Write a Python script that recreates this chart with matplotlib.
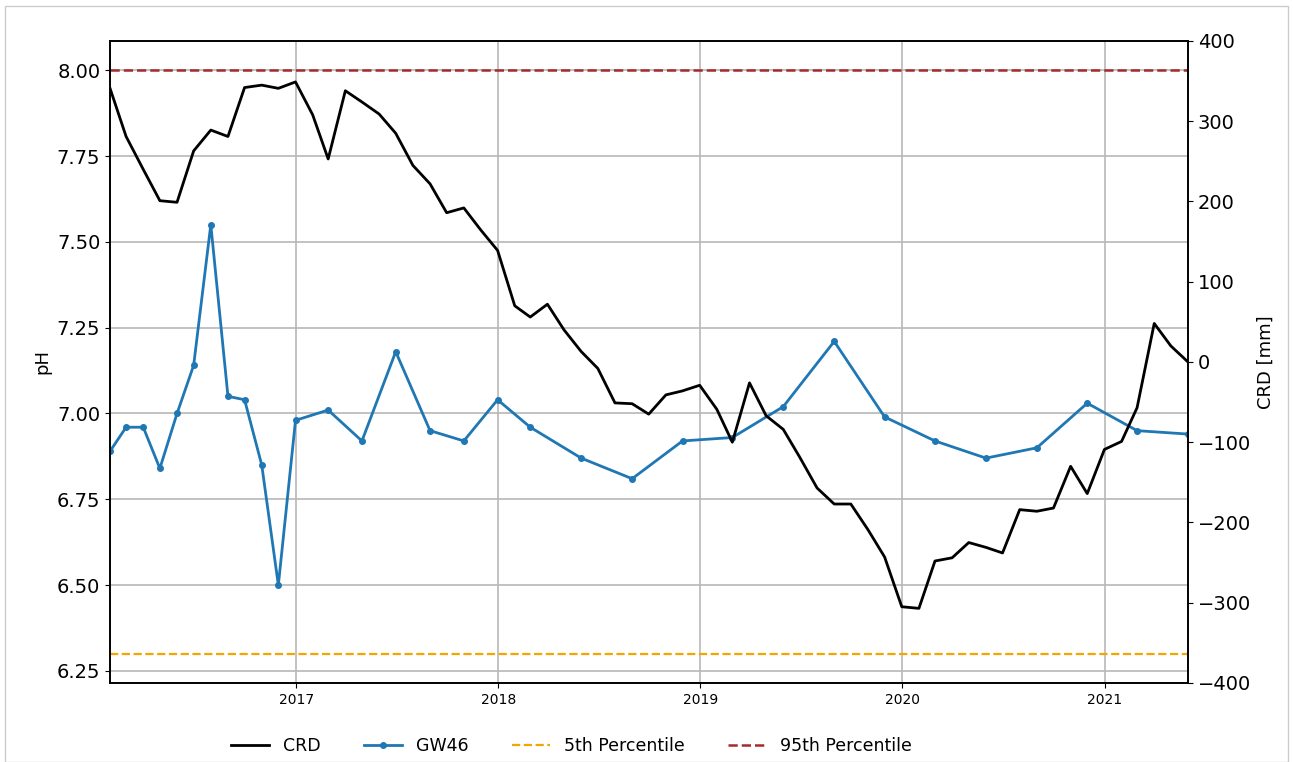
import numpy as np
import pandas as pd
import matplotlib
matplotlib.use('Agg')
import matplotlib.pyplot as plt
import matplotlib.dates as mdates
from matplotlib.patches import Rectangle

# CRD [mm], month-end values Jan 2016 .. May 2021
crd_start = '2016-01-31'
crd_values = [341, 281, 240, 201, 199, 263, 289, 281, 342, 345, 341, 349,
              308, 253, 338, 324, 309, 285, 245, 222, 186, 192, 165, 139,
              70, 56, 72, 40, 13, -8, -51, -52, -65, -41, -36, -29,
              -59, -100, -26, -67, -84, -119, -157, -177, -177, -209, -243, -305,
              -307, -248, -244, -225, -231, -238, -184, -186, -182, -130, -164, -109,
              -99, -57, 48, 20, 0]

# GW46 pH samples
gw46_dates = ['2016-01-31', '2016-02-29', '2016-03-31', '2016-04-30', '2016-05-31',
              '2016-06-30', '2016-07-31', '2016-08-31', '2016-09-30', '2016-10-31',
              '2016-11-30', '2016-12-31', '2017-02-28', '2017-04-30', '2017-06-30',
              '2017-08-31', '2017-10-31', '2017-12-31', '2018-02-28', '2018-05-31',
              '2018-08-31', '2018-11-30', '2019-02-28', '2019-05-31', '2019-08-31',
              '2019-11-30', '2020-02-29', '2020-05-31', '2020-08-31', '2020-11-30',
              '2021-02-28', '2021-05-31']
gw46_ph = [6.89, 6.96, 6.96, 6.84, 7.00, 7.14, 7.55, 7.05, 7.04, 6.85, 6.50, 6.98,
           7.01, 6.92, 7.18, 6.95, 6.92, 7.04, 6.96, 6.87, 6.81, 6.92,
           6.93, 7.02, 7.21, 6.99, 6.92, 6.87, 6.90, 7.03, 6.95, 6.94]

p5 = 6.30
p95 = 8.00

crd_dates = pd.date_range(crd_start, periods=len(crd_values), freq=pd.offsets.MonthEnd())
gw_dates = pd.to_datetime(gw46_dates)

fig = plt.figure(figsize=(12.93, 7.62), dpi=100)
ax1 = fig.add_axes([0.0851, 0.1037, 0.8337, 0.8425])
ax2 = ax1.twinx()

l_gw, = ax1.plot(gw_dates, gw46_ph, color='#1f77b4', lw=2, marker='o', markersize=4, label='GW46')
l_p5 = ax1.axhline(p5, color='#f5a500', ls='--', lw=1.6, label='5th Percentile')
l_p95 = ax1.axhline(p95, color='#a52a2a', ls='--', lw=1.8, label='95th Percentile')
l_crd, = ax2.plot(crd_dates, crd_values, color='black', lw=2, label='CRD')

ax1.set_xlim(crd_dates[0], crd_dates[-1])
ax1.set_ylim(6.215, 8.085)
ax2.set_ylim(-400, 400)
ax1.set_yticks(np.arange(6.25, 8.01, 0.25))
ax1.yaxis.set_major_formatter(matplotlib.ticker.FormatStrFormatter('%.2f'))
ax2.set_yticks(np.arange(-400, 401, 100))

ax1.xaxis.set_major_locator(mdates.YearLocator())
ax1.xaxis.set_major_formatter(mdates.DateFormatter('%Y'))
ax1.tick_params(axis='x', labelsize=10)
ax1.tick_params(axis='y', labelsize=14)
ax2.tick_params(axis='y', labelsize=14)
ax1.grid(True, color='#b8b8b8', lw=1.2)

ax1.set_ylabel('pH', fontsize=13)
ax2.set_ylabel('CRD [mm]', fontsize=13)

for ax in (ax1, ax2):
    for s in ax.spines.values():
        s.set_linewidth(1.2)

fig.legend([l_crd, l_gw, l_p5, l_p95], ['CRD', 'GW46', '5th Percentile', '95th Percentile'],
           loc='center', bbox_to_anchor=(0.442, 0.021), ncol=4, frameon=False,
           fontsize=12.5, columnspacing=2.5, handlelength=2.2)

# thin frame around the figure
fig.patches.append(Rectangle((5 / 1293, 0.0), 1 - 10 / 1293, 1 - 6 / 762, transform=fig.transFigure,
                             fill=False, edgecolor='#cccccc', lw=1))

fig.savefig('out.png', dpi=100)
